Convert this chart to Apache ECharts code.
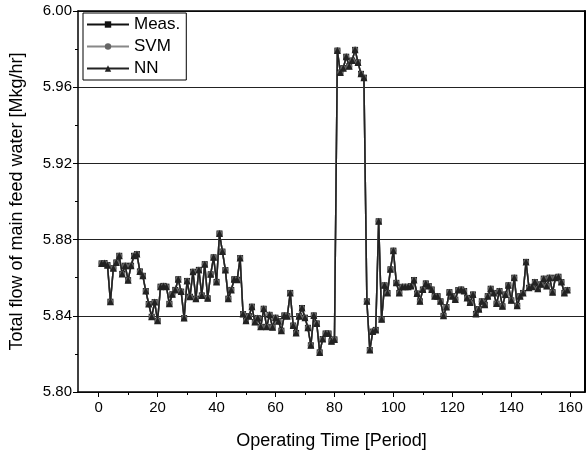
<!DOCTYPE html>
<html>
<head>
<meta charset="utf-8">
<script src="https://cdn.jsdelivr.net/npm/echarts@6/dist/echarts.min.js"></script>
<style>html,body{margin:0;padding:0;background:#fff;}#c{width:587px;height:460px;}</style>
</head>
<body>
<div id="c"></div>
<script>
var xTicks = [0, 20, 40, 60, 80, 100, 120, 140, 160];
var xMinorTicks = [10, 30, 50, 70, 90, 110, 130, 150];
var periods = Array.from({length: 159}, function (_, i) { return i + 1; });
var meas = [
5.8675,5.8677,5.8666,5.8474,5.865,5.868,5.8715,5.862,5.8663,5.8587,
5.8663,5.8715,5.8724,5.8633,5.861,5.853,5.8462,5.8395,5.8472,5.8374,
5.8553,5.8557,5.8553,5.8463,5.8513,5.8536,5.8592,5.8527,5.8388,5.8583,
5.850,5.8631,5.849,5.8641,5.8507,5.8671,5.8492,5.8618,5.8707,5.8578,
5.8832,5.8737,5.864,5.849,5.8536,5.8592,5.8589,5.8703,5.8409,5.8374,
5.8398,5.8448,5.8367,5.8388,5.8342,5.8437,5.8342,5.8405,5.834,5.839,
5.8372,5.8322,5.8402,5.8398,5.852,5.8349,5.831,5.8398,5.8441,5.839,
5.8337,5.8245,5.8402,5.836,5.8208,5.8278,5.8307,5.8307,5.8266,5.8276,
5.9792,5.9677,5.970,5.976,5.971,5.974,5.9796,5.973,5.967,5.965,
5.8476,5.822,5.8317,5.8326,5.8896,5.8382,5.856,5.852,5.8644,5.8742,
5.8573,5.852,5.8552,5.8552,5.8552,5.8556,5.8588,5.8517,5.8476,5.8538,
5.857,5.8556,5.8538,5.8503,5.8503,5.8476,5.840,5.8446,5.8524,5.8503,
5.8485,5.8535,5.8538,5.853,5.8494,5.847,5.8512,5.841,5.8435,5.8476,
5.8458,5.8503,5.8542,5.852,5.8464,5.853,5.845,5.8512,5.856,5.8481,
5.860,5.8453,5.8503,5.852,5.8683,5.8547,5.8552,5.8577,5.8542,5.8565,
5.8595,5.8556,5.860,5.8524,5.860,5.8605,5.8577,5.852,5.8535
];
var svm = meas.slice();
var nn = meas.slice();

function pairs(vals) { return vals.map(function (v, i) { return [periods[i], v]; }); }

var FONT = 'Liberation Sans, Arial, sans-serif';
var chart = echarts.init(document.getElementById('c'), null, {renderer: 'canvas'});
var grid = {left: 70, right: 2, top: 11, bottom: 68};
var xBase = {min: -7, max: 165, gridIndex: 0};

chart.setOption({
  animation: false,
  backgroundColor: '#fff',
  grid: grid,
  legend: {
    orient: 'vertical', left: 83, top: 13,
    borderColor: '#000', borderWidth: 1, padding: [3, 6, 3, 3],
    itemWidth: 42, itemHeight: 8, itemGap: 5,
    textStyle: {fontFamily: FONT, fontSize: 17, color: '#000'},
    data: ['Meas.', 'SVM', 'NN']
  },
  xAxis: [
    Object.assign({}, xBase, {
      type: 'value', position: 'bottom',
      name: 'Operating Time [Period]', nameLocation: 'middle', nameGap: 40,
      nameTextStyle: {fontFamily: FONT, fontSize: 18, color: '#000'},
      axisLine: {show: true, onZero: false, lineStyle: {color: '#000', width: 1.5}},
      axisTick: {show: true, inside: false, length: 5, lineStyle: {color: '#000'}, customValues: xTicks},
      axisLabel: {fontFamily: FONT, fontSize: 15, color: '#000', margin: 8, customValues: xTicks},
      splitLine: {show: false}
    }),
    Object.assign({}, xBase, {
      type: 'value', position: 'bottom',
      axisLine: {show: false, onZero: false},
      axisTick: {show: true, inside: false, length: 3, lineStyle: {color: '#000'}, customValues: xMinorTicks},
      axisLabel: {show: false, customValues: xMinorTicks},
      splitLine: {show: false}
    }),
    Object.assign({}, xBase, {
      type: 'value', position: 'top',
      axisLine: {show: true, onZero: false, lineStyle: {color: '#000', width: 1.5}},
      axisTick: {show: false}, axisLabel: {show: false}, splitLine: {show: false}
    })
  ],
  yAxis: [
    {
      type: 'value', min: 5.80, max: 6.00, interval: 0.04, position: 'left',
      name: 'Total flow of main feed water [Mkg/hr]', nameLocation: 'middle', nameGap: 52,
      nameTextStyle: {fontFamily: FONT, fontSize: 18, color: '#000'},
      axisLine: {show: true, onZero: false, lineStyle: {color: '#000', width: 1.5}},
      axisTick: {show: true, inside: false, length: 5, lineStyle: {color: '#000'}},
      minorTick: {show: true, splitNumber: 2, length: 3, lineStyle: {color: '#000'}},
      axisLabel: {fontFamily: FONT, fontSize: 15, color: '#000', margin: 6,
        formatter: function (v) { return v.toFixed(2); }},
      splitLine: {show: true, lineStyle: {color: '#222', width: 1}}
    },
    {
      type: 'value', min: 5.80, max: 6.00, interval: 0.04, position: 'right',
      axisLine: {show: true, onZero: false, lineStyle: {color: '#000', width: 2}},
      axisTick: {show: false}, axisLabel: {show: false}, splitLine: {show: false}
    }
  ],
  series: [
    {name: 'Meas.', type: 'line', xAxisIndex: 0, yAxisIndex: 0, data: pairs(meas),
     symbol: 'rect', symbolSize: 6, lineStyle: {color: '#111', width: 1.5},
     itemStyle: {color: '#111'}},
    {name: 'SVM', type: 'line', xAxisIndex: 0, yAxisIndex: 0, data: pairs(svm),
     symbol: 'circle', symbolSize: 6, lineStyle: {color: '#888', width: 1.5},
     itemStyle: {color: '#666'}},
    {name: 'NN', type: 'line', xAxisIndex: 0, yAxisIndex: 0, data: pairs(nn),
     symbol: 'triangle', symbolSize: 7, lineStyle: {color: '#222', width: 1.5},
     itemStyle: {color: '#222'}}
  ]
});
</script>
</body>
</html>
